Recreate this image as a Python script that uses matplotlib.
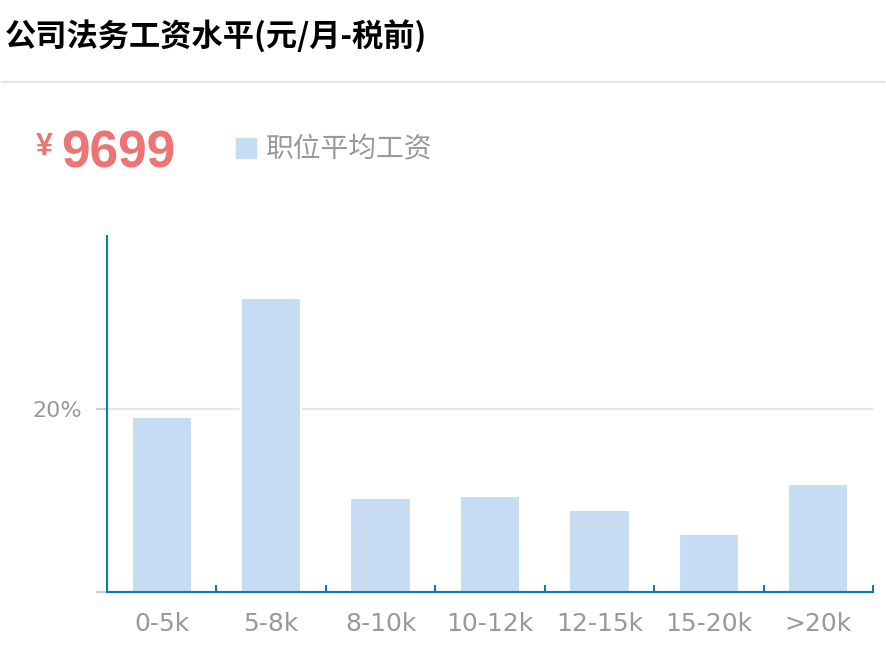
import matplotlib
matplotlib.use('agg')
import matplotlib.pyplot as plt
from matplotlib.patches import Rectangle
from matplotlib.lines import Line2D

# data
categories = ['0-5k', '5-8k', '8-10k', '10-12k', '12-15k', '15-20k', '>20k']
shares = [19.1, 32.1, 10.3, 10.5, 9.0, 6.4, 11.8]
avg_salary = '9699'
title = '公司法务工资水平(元/月-税前)'
legend_label = '职位平均工资'

plt.rcParams['font.family'] = ['Noto Sans CJK SC', 'DejaVu Sans']

axis_blue = '#0b7db5'
bar_blue = '#c6dcf2'
grey = '#999999'

fig = plt.figure(figsize=(8.86, 6.46), dpi=100)
ax = fig.add_axes([107 / 886, 53.7 / 646, 766 / 886, 356.3 / 646])

x = range(len(categories))
ax.bar(x, shares, width=0.55, color=bar_blue, edgecolor='white',
       linewidth=1.5, zorder=2)

ax.set_xlim(-0.5, len(categories) - 0.5)
ax.set_ylim(0, 38.8)

# only the 20% grid line
ax.set_yticks([0, 20])
ax.set_yticklabels(['', '20%'])
ax.axhline(20, color='#e6e6e6', lw=1.5, zorder=0)

ax.set_xticks(list(x))
ax.set_xticklabels(categories)
ax.set_xticks([i + 0.5 for i in x], minor=True)
ax.tick_params(axis='x', which='major', length=0, pad=14, labelsize=18,
               labelcolor=grey)
ax.tick_params(axis='x', which='minor', direction='in', length=5,
               width=1.5, color=axis_blue)
ax.tick_params(axis='y', length=8, width=1.5, color='#c0d0e2', pad=10,
               labelsize=16, labelcolor=grey)
for lab in ax.get_xticklabels() + ax.get_yticklabels():
    lab.set_family('DejaVu Sans')

for side in ['top', 'right']:
    ax.spines[side].set_visible(False)
for side in ['left', 'bottom']:
    ax.spines[side].set_color(axis_blue)
    ax.spines[side].set_linewidth(1.5)
    ax.spines[side].set_zorder(3)

# header
fig.text(5 / 886, 1 - 37 / 646, title, fontsize=22.5, fontweight='bold',
         color='black', va='center', ha='left')
fig.add_artist(Line2D([2 / 886, 884 / 886], [1 - 82 / 646] * 2,
                      color='#e5e5e5', lw=1.5, transform=fig.transFigure))

fig.text(36 / 886, 1 - 155 / 646, '¥', fontsize=22, fontweight='bold',
         color='#ec7474', family='Liberation Sans', va='baseline')
fig.text(61 / 886, 1 - 168 / 646, avg_salary, fontsize=37, fontweight='bold',
         color='#ec7474', family='Liberation Sans', va='baseline')

fig.add_artist(Rectangle((236 / 886, 1 - 158 / 646), 20 / 886, 20 / 646,
                         color=bar_blue, transform=fig.transFigure))
fig.text(266 / 886, 1 - 149 / 646, legend_label, fontsize=20, color=grey,
         va='center', ha='left')

fig.savefig('out.png', dpi=100)
plt.close(fig)
